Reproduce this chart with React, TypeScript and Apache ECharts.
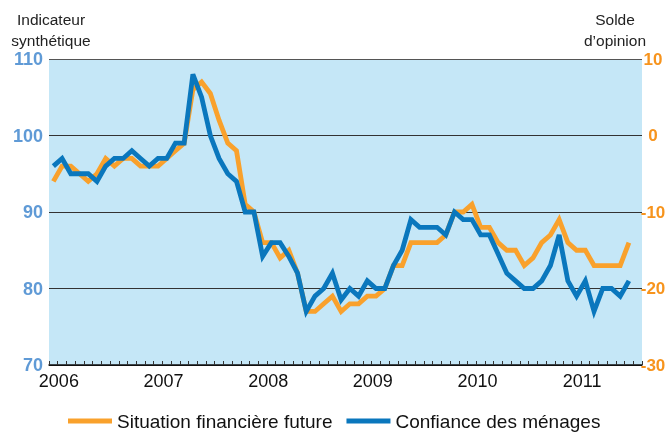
import React, { useEffect, useRef } from 'react';
import * as echarts from 'echarts';

const years = ['2006', '2007', '2008', '2009', '2010', '2011'];
const monthsInLastYear = 8;
const categories: string[] = [];
years.forEach((y, yi) => {
  const n = yi === years.length - 1 ? monthsInLastYear : 12;
  for (let m = 1; m <= n; m++) categories.push(`${y}-${m < 10 ? '0' + m : m}`);
});

const situationFinanciere = [
  94, 96, 96, 95, 94, 95, 97, 96, 97, 97, 96, 96,
  96, 97, 98, 99, 106, 107, 105.5, 102, 99, 98, 91, 90,
  86, 86, 84, 85, 82, 77, 77, 78, 79, 77, 78, 78,
  79, 79, 80, 83, 83, 86, 86, 86, 86, 87, 90, 90,
  91, 88, 88, 86, 85, 85, 83, 84, 86, 87, 89, 86,
  85, 85, 83, 83, 83, 83, 86,
];

const confianceMenages = [
  96, 97, 95, 95, 95, 94, 96, 97, 97, 98, 97, 96,
  97, 97, 99, 99, 108, 105, 100, 97, 95, 94, 90, 90,
  84.2, 86, 86, 84.2, 82, 77, 79, 80, 82, 78.5, 80, 79,
  81, 80, 80, 83, 85, 89, 88, 88, 88, 87, 90, 89,
  89, 87, 87, 84.5, 82, 81, 80, 80, 81, 83, 87, 81,
  79, 81, 77, 80, 80, 79, 81,
];

const ORANGE = '#f9a12c';
const BLUE = '#0a77bd';
const FONT = '"Liberation Sans", Arial, sans-serif';

export default function App() {
  const ref = useRef<HTMLDivElement>(null);
  useEffect(() => {
    if (!ref.current) return;
    const chart = echarts.init(ref.current, undefined, { renderer: 'svg' });
    chart.setOption({
      animation: false,
      textStyle: { fontFamily: FONT },
      grid: {
        left: 49, right: 26, top: 59, bottom: 67,
        show: true, backgroundColor: '#c5e7f7', borderWidth: 0,
        containLabel: false, outerBoundsMode: 'none',
      },
      xAxis: {
        type: 'category',
        data: categories,
        boundaryGap: true,
        axisLine: { onZero: false, lineStyle: { color: '#111', width: 1.5 } },
        axisTick: { show: true, inside: true, length: 4, interval: 0, lineStyle: { color: '#333', width: 1 } },
        axisLabel: {
          interval: 0,
          formatter: (v: string) => (v.endsWith('-01') ? v.slice(0, 4) : ''),
          color: '#111', fontSize: 18, margin: 7, padding: [0, 0, 0, 11], fontFamily: FONT,
        },
        splitLine: { show: false },
      },
      yAxis: [
        {
          type: 'value', min: 70, max: 110, interval: 10, position: 'left',
          axisLine: { show: false }, axisTick: { show: false },
          axisLabel: { color: '#5f9ad6', fontSize: 18, fontWeight: 'bold', margin: 6, fontFamily: FONT },
          splitLine: { lineStyle: { color: ['#111', '#333', '#333', '#333', '#555'], width: 1.2 } },
        },
        {
          type: 'value', min: -30, max: 10, interval: 10, position: 'right',
          axisLine: { show: false }, axisTick: { show: false },
          axisLabel: { color: '#f7941d', fontSize: 17, fontWeight: 'bold', margin: 11, align: 'center', fontFamily: FONT },
          splitLine: { show: false },
        },
      ],
      legend: {
        top: 411, left: 68, padding: 0,
        icon: 'rect', itemWidth: 44, itemHeight: 5, itemGap: 14,
        textStyle: { fontSize: 19, lineHeight: 20, color: '#111', fontFamily: FONT },
        data: ['Situation financière future', 'Confiance des ménages'],
      },
      series: [
        {
          name: 'Situation financière future', type: 'line', data: situationFinanciere,
          symbol: 'none', lineStyle: { color: ORANGE, width: 4.8, join: 'miter' }, itemStyle: { color: ORANGE },
        },
        {
          name: 'Confiance des ménages', type: 'line', data: confianceMenages,
          symbol: 'none', lineStyle: { color: BLUE, width: 4.8, join: 'miter' }, itemStyle: { color: BLUE },
        },
      ],
      graphic: [
        {
          type: 'text',
          style: { text: 'Indicateur\nsynthétique', fill: '#222', font: `15.5px ${FONT}`, textAlign: 'center', lineHeight: 21 },
          x: 51, y: 9,
        },
        {
          type: 'text',
          style: { text: 'Solde\nd’opinion', fill: '#222', font: `15.5px ${FONT}`, textAlign: 'center', lineHeight: 21 },
          x: 615, y: 9,
        },
      ],
    });
    return () => chart.dispose();
  }, []);
  return <div ref={ref} style={{ position: 'fixed', left: 0, top: 0, width: 668, height: 432 }} />;
}
